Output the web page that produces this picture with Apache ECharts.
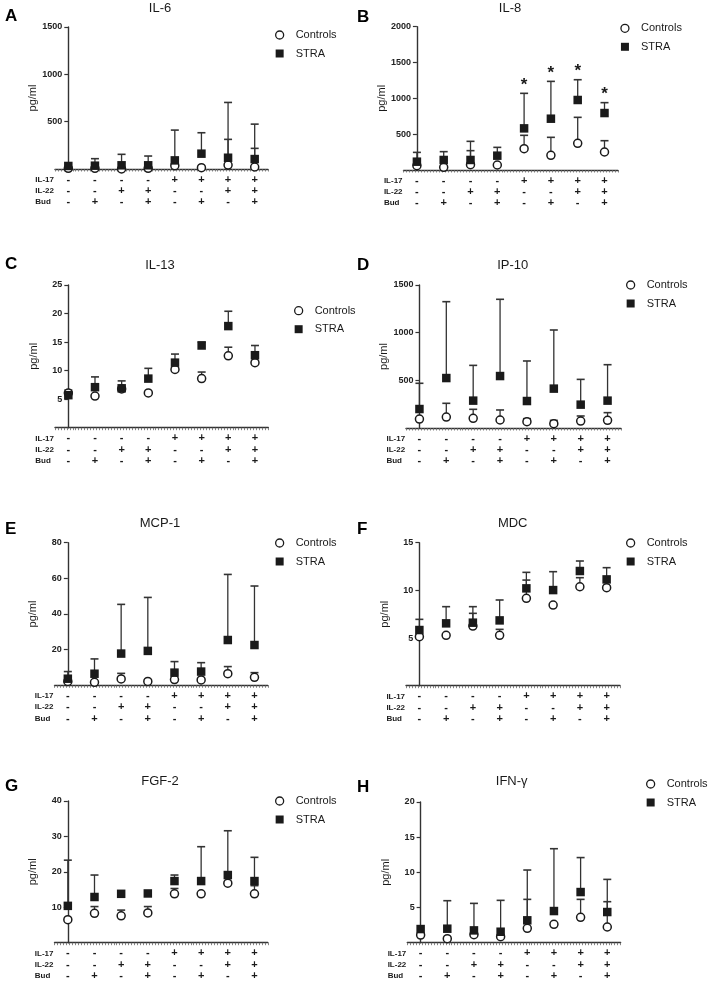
<!DOCTYPE html>
<html><head><meta charset="utf-8">
<script src="https://cdn.jsdelivr.net/npm/echarts/dist/echarts.min.js"></script>
<style>html,body{margin:0;padding:0;background:#fff}#c{width:711px;height:991px}</style>
</head><body><div id="c"></div>
<script>
// ---------- data ----------
const il17 = ['-','-','-','-','+','+','+','+'];
const il22 = ['-','-','+','+','-','-','+','+'];
const bud  = ['-','+','-','+','-','+','-','+'];
const rowNames = ['IL-17','IL-22','Bud'];
const panelLetters = ['A','B','C','D','E','F','G','H'];
const panelTitles = ['IL-6','IL-8','IL-13','IP-10','MCP-1','MDC','FGF-2','IFN-γ'];
const yMaxes = [1500, 2000, 25, 1500, 80, 15, 40, 20];
const ySteps = [500, 500, 5, 500, 20, 5, 10, 5];
const seriesNames = ['Controls','STRA'];

const il6Controls      = [7, 7, 0, 7, 35, 14, 42, 21];
const il6ControlsUpper = [null, null, null, null, null, null, 313, 218];
const il6Stra          = [32, 35, 39, 39, 91, 162, 119, 105];
const il6StraUpper     = [null, 109, 155, 137, 411, 383, 703, 474];

const il8Controls      = [60, 37, 74, 70, 298, 205, 372, 251];
const il8ControlsUpper = [null, null, 270, null, 484, 456, 735, 409];
const il8Stra          = [116, 140, 140, 200, 581, 716, 977, 795];
const il8StraUpper     = [246, 256, 400, 316, 1070, 1237, 1260, 940];
const il8Significant   = [0, 0, 0, 0, 1, 1, 1, 1];

const il13Controls      = [6.07, 5.55, 6.8, 6.1, 10.2, 8.6, 12.6, 11.4];
const il13ControlsUpper = [null, null, null, null, null, 9.75, 14.1, null];
const il13Stra          = [5.7, 7.1, 6.9, 8.6, 11.4, 14.4, 17.8, 12.7];
const il13StraUpper     = [6.6, 8.9, 8.2, 10.4, 12.9, 15.0, 20.4, 14.4];

const ip10Controls      = [94, 115, 101, 84, 66, 45, 73, 80];
const ip10ControlsUpper = [null, 259, 196, 189, 98, 80, 126, 161];
const ip10Stra          = [199, 524, 287, 545, 283, 413, 245, 287];
const ip10StraUpper     = [469, 1325, 657, 1350, 703, 1028, 510, 664];

const mcp1Controls      = [2.2, 1.7, 3.6, 2.2, 3.2, 3.0, 6.5, 4.5];
const mcp1ControlsUpper = [null, null, 6.7, null, null, null, 10.5, 7.1];
const mcp1Stra          = [3.7, 6.5, 17.8, 19.3, 7.1, 7.7, 25.4, 22.6];
const mcp1StraUpper     = [7.7, 14.8, 45.4, 49.3, 13.3, 12.7, 62.2, 55.7];

const mdcControls      = [5.14, 5.28, 6.26, 5.28, 9.16, 8.46, 10.38, 10.28];
const mdcControlsUpper = [null, null, 7.59, 5.91, 11.08, null, 11.33, null];
const mdcStra          = [5.84, 6.54, 6.61, 6.85, 10.21, 10.03, 12.03, 11.15];
const mdcStraUpper     = [6.96, 8.29, 8.29, 8.99, 11.89, 11.96, 13.08, 12.38];

const fgf2Controls      = [6.5, 8.3, 7.6, 8.4, 13.8, 13.8, 16.8, 13.8];
const fgf2ControlsUpper = [null, 10.2, 9.2, 10.2, 15.3, null, null, 16.1];
const fgf2Stra          = [10.4, 12.9, 13.8, 13.9, 17.4, 17.4, 19.1, 17.4];
const fgf2StraUpper     = [23.3, 19.1, null, null, 19.1, 27.1, 31.6, 24.1];

const ifngControls      = [1.09, 0.57, 1.14, 0.85, 2.04, 2.61, 3.6, 2.23];
const ifngControlsUpper = [null, null, null, null, 6.16, null, 6.16, 5.83];
const ifngStra          = [1.94, 1.99, 1.75, 1.56, 3.18, 4.5, 7.2, 4.36];
const ifngStraUpper     = [null, 5.97, 5.59, 6.02, 10.33, 13.36, 12.1, 9.0];

// ---------- layout (positions / styles only) ----------
const gridLeft   = [55, 403.5, 55, 406, 54.5, 406, 54.5, 407.3];
const gridWidth  = [213, 214.4, 213.3, 215, 213.3, 214, 213.3, 213.3];
const gridTop    = [27, 26.7, 285, 285, 542.7, 542.7, 801, 802];
const gridBottom = [169, 170, 427.7, 428, 685.3, 685.7, 942.7, 942.7];
const legendX = [279, 624.3, 298, 630, 279, 630, 279, 650];
const legendY = [35, 28.3, 310.7, 285, 543, 543, 801, 784];
const titleX = [160, 510, 160, 512.7, 160, 512.7, 160, 511.7];
const titleY = [8, 8, 265, 265, 523, 523, 781.7, 781.7];
const letterX = [5, 357, 5, 357, 5, 357, 5, 357];
const letterY = [16, 17, 264.5, 265.5, 529.5, 529.5, 786.5, 787];

const FONT = '"Liberation Sans", Arial, Helvetica, sans-serif';
const INK = '#1a1a1a';

const panelData = [
  [il6Controls, il6ControlsUpper, il6Stra, il6StraUpper, null],
  [il8Controls, il8ControlsUpper, il8Stra, il8StraUpper, il8Significant],
  [il13Controls, il13ControlsUpper, il13Stra, il13StraUpper, null],
  [ip10Controls, ip10ControlsUpper, ip10Stra, ip10StraUpper, null],
  [mcp1Controls, mcp1ControlsUpper, mcp1Stra, mcp1StraUpper, null],
  [mdcControls, mdcControlsUpper, mdcStra, mdcStraUpper, null],
  [fgf2Controls, fgf2ControlsUpper, fgf2Stra, fgf2StraUpper, null],
  [ifngControls, ifngControlsUpper, ifngStra, ifngStraUpper, null]
];

const categories = il17.map((v, i) => v + '\n' + il22[i] + '\n' + bud[i]);

function errRender(params, api) {
  const x = api.value(0);
  const p0 = api.coord([x, api.value(1)]);
  const p1 = api.coord([x, api.value(2)]);
  const hw = 4;
  return {
    type: 'group',
    children: [
      { type: 'line', shape: { x1: p0[0], y1: p0[1], x2: p1[0], y2: p1[1] }, style: { stroke: '#333', lineWidth: 1.3 } },
      { type: 'line', shape: { x1: p1[0] - hw, y1: p1[1], x2: p1[0] + hw, y2: p1[1] }, style: { stroke: '#333', lineWidth: 1.6 } }
    ]
  };
}
function starRender(params, api) {
  const p = api.coord([api.value(0), api.value(1)]);
  return { type: 'text', x: p[0], y: p[1] - 8, style: { text: '*', align: 'center', verticalAlign: 'middle', font: 'bold 17px ' + FONT, fill: INK } };
}

const grid = [], xAxis = [], yAxis = [], series = [], legend = [], graphic = [];

for (let g = 0; g < 8; g++) {
  const [ctrl, ctrlUp, stra, straUp, sig] = panelData[g];
  const band = gridWidth[g] / 8;
  grid.push({ left: gridLeft[g], top: gridTop[g], width: gridWidth[g], height: gridBottom[g] - gridTop[g] });
  xAxis.push({
    type: 'category', gridIndex: g, data: categories, boundaryGap: true,
    axisLine: { lineStyle: { color: '#333', width: 1.4 } },
    axisTick: { alignWithLabel: true, length: 3, lineStyle: { color: '#333', width: 1.2 } },
    axisLabel: { interval: 0, margin: 5, fontSize: 11, fontWeight: 'bold', lineHeight: 11.3, color: INK, fontFamily: FONT }
  });
  xAxis.push({
    type: 'value', gridIndex: g, position: 'bottom', min: 0, max: 72, interval: 1,
    axisLine: { show: false }, axisLabel: { show: false }, splitLine: { show: false },
    axisTick: { length: 2.5, lineStyle: { color: '#666', width: 0.8 } }
  });
  yAxis.push({
    type: 'value', gridIndex: g, min: 0, max: yMaxes[g], interval: ySteps[g],
    offset: -band / 2,
    name: 'pg/ml', nameLocation: 'middle', nameGap: 29,
    nameTextStyle: { fontSize: 11, color: INK, fontFamily: FONT },
    axisLine: { show: true, lineStyle: { color: '#333', width: 1.4 } },
    axisTick: { show: true, length: 4, lineStyle: { color: '#333', width: 1.2 } },
    axisLabel: { showMinLabel: false, margin: 6, fontSize: 9, fontWeight: 'bold', color: '#222', fontFamily: FONT,
      formatter: v => String(v) },
    splitLine: { show: false }
  });
  const xi = 2 * g;
  const errData = (mean, up) => mean.map((v, i) => up[i] == null ? null : [i, v, up[i]]).filter(Boolean);
  series.push({ type: 'custom', xAxisIndex: xi, yAxisIndex: g, renderItem: errRender, data: errData(ctrl, ctrlUp), encode: { x: 0, y: [1, 2] }, z: 1, silent: true });
  series.push({ type: 'custom', xAxisIndex: xi, yAxisIndex: g, renderItem: errRender, data: errData(stra, straUp), encode: { x: 0, y: [1, 2] }, z: 1, silent: true });
  series.push({ name: seriesNames[0], type: 'scatter', xAxisIndex: xi, yAxisIndex: g, symbol: 'circle', symbolSize: 8,
    itemStyle: { color: '#fff', borderColor: INK, borderWidth: 1.5, opacity: 1 }, data: ctrl.map((v, i) => [i, v]), z: 3 });
  series.push({ name: seriesNames[1], type: 'scatter', xAxisIndex: xi, yAxisIndex: g, symbol: 'rect', symbolSize: 8.5,
    itemStyle: { color: INK, opacity: 1 }, data: stra.map((v, i) => [i, v]), z: 4 });
  if (sig) {
    series.push({ type: 'custom', xAxisIndex: xi, yAxisIndex: g, renderItem: starRender,
      data: straUp.map((v, i) => sig[i] ? [i, v] : null).filter(Boolean), encode: { x: 0, y: 1 }, z: 5, silent: true });
  }
  legend.push({
    orient: 'vertical', left: legendX[g] - 4, top: legendY[g] - 7, padding: 0, itemGap: 4.5,
    itemWidth: 8, itemHeight: 8, selectedMode: false,
    textStyle: { fontSize: 11, lineHeight: 14, color: INK, fontFamily: FONT, padding: [0, 0, 0, 7] },
    data: [
      { name: seriesNames[0], icon: 'circle', itemStyle: { color: '#fff', borderColor: INK, borderWidth: 1.3 } },
      { name: seriesNames[1], icon: 'rect', itemStyle: { color: INK } }
    ]
  });
  graphic.push({ type: 'text', x: titleX[g], y: titleY[g], style: { text: panelTitles[g], align: 'center', verticalAlign: 'middle', font: '13px ' + FONT, fill: INK } });
  graphic.push({ type: 'text', x: letterX[g], y: letterY[g], style: { text: panelLetters[g], align: 'left', verticalAlign: 'middle', font: 'bold 17px ' + FONT, fill: '#000' } });
  const axisX = gridLeft[g] + band / 2;
  rowNames.forEach((r, k) => {
    graphic.push({ type: 'text', x: axisX - 33, y: gridBottom[g] + 10.65 + k * 11.3,
      style: { text: r, align: 'left', verticalAlign: 'middle', font: 'bold 8px ' + FONT, fill: INK } });
  });
}

const chart = echarts.init(document.getElementById('c'), null, { renderer: 'canvas' });
chart.setOption({ animation: false, backgroundColor: '#fff', grid, xAxis, yAxis, series, legend, graphic });
</script></body></html>
